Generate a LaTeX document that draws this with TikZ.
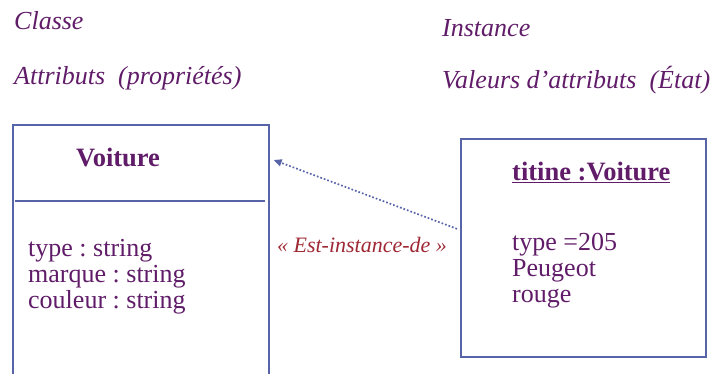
\documentclass[tikz,border=0pt]{standalone}
\usepackage{fontspec}
\setmainfont{Liberation Serif}
\usepackage{tikz}
\usetikzlibrary{arrows.meta, positioning}
\definecolor{bordure}{RGB}{88,100,168}
\definecolor{texte}{RGB}{96,28,104}
\definecolor{lien}{RGB}{158,40,52}
\frenchspacing
\tikzstyle{titre} = [anchor=base west, inner sep=0pt, text=texte, font=\itshape\fontsize{26}{28}\selectfont]
\tikzstyle{boite} = [draw=bordure, line width=1.7pt, inner sep=0pt]
\tikzstyle{nom} = [inner sep=0pt, text=texte, font=\bfseries\fontsize{26.5}{28}\selectfont]
\tikzstyle{liste} = [anchor=base west, inner sep=0pt, align=left, text=texte, font=\fontsize{26}{26}\selectfont]
\tikzstyle{fleche} = [draw=bordure, line width=1.7pt, dotted, -{Triangle[length=8pt,width=7pt]}]

\begin{document}
\begin{tikzpicture}[x=1pt,y=-1pt]
    \useasboundingbox (0,0) rectangle (714,374);
    % titres du haut
    \node[titre] (classe) at (14,30) {Classe};
    \node[titre] (attributs) at (14,85) {Attributs~~(propriétés)};
    \node[titre] (instance) at (442,37) {Instance};
    \node[titre] (valeurs) at (442,89) {Valeurs d\char"0027attributs~~(État)};
    % la classe
    \node[boite, anchor=north west, minimum width=256pt, minimum height=262pt] (voiture) at (12,124) {};
    \draw[draw=bordure, line width=1.7pt] (15,201) -- (265,201);
    \node[nom, anchor=base] (nomclasse) at (118,167) {Voiture};
    \node[liste] (proprietes) at (28,308) {type : string\\marque : string\\couleur : string};
    % l'instance
    \node[boite, anchor=north west, minimum width=245pt, minimum height=218pt] (titine) at (460,138) {};
    \node[nom, anchor=base west] (nominstance) at (512,180) {\underline{titine :Voiture}};
    \node[liste] (etat) at (512,302) {type =205\\Peugeot\\rouge};
    % relation
    \coordinate (depart) at ([shift={(-3pt,19pt)}]titine.west);
    \coordinate (cible) at ([shift={(4pt,-36pt)}]voiture.north east);
    \draw[fleche] (depart) -- (cible);
    \node[anchor=base, inner sep=0pt, text=lien, font=\itshape\fontsize{22}{24}\selectfont] (estinstance) at (362,252) {« Est-instance-de »};
\end{tikzpicture}
\end{document}
